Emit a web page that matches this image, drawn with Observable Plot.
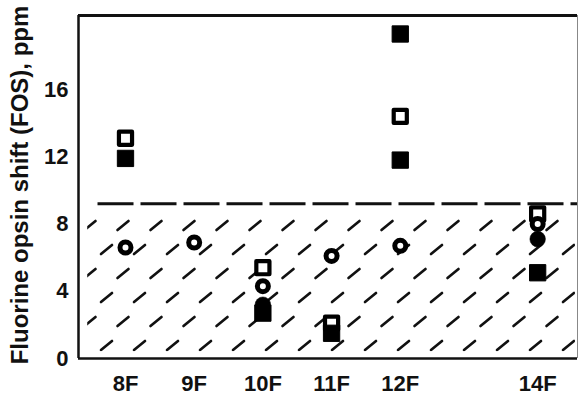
<!DOCTYPE html>
<html>
<head>
<meta charset="utf-8">
<script src="https://cdn.jsdelivr.net/npm/d3@7"></script>
<script src="https://cdn.jsdelivr.net/npm/@observablehq/plot@0.6"></script>
<style>
  html, body { margin: 0; padding: 0; background: #fff; }
  #chart { width: 579px; height: 395px; }
  svg { font-family: "Liberation Sans", Arial, sans-serif; }
  svg text { font-weight: bold; }
</style>
</head>
<body>
<div id="chart"></div>
<script>
// ---- data ----
const tickCarbons = [8, 9, 10, 11, 12, 14];
const tickLabels = ["8F", "9F", "10F", "11F", "12F", "14F"];
const yTicks = [0, 4, 8, 12, 16];
const openSquares   = [[8, 13.1], [10, 5.4], [11, 2.1], [12, 14.4], [14, 8.6]];
const filledSquares = [[8, 11.9], [10, 2.7], [11, 1.5], [12, 19.3], [12, 11.8], [14, 5.1]];
const openCircles   = [[8, 6.6], [9, 6.9], [10, 4.3], [11, 6.1], [12, 6.7], [14, 8.0]];
const filledCircles = [[10, 3.2], [14, 7.1]];
const threshold = [9.2];
const thresholdSpan = [7.6, 14.58];
const hatchRegion = [{x1: 7.45, x2: 14.55, y1: 0.4, y2: 8.9}];
const xDomain = [7.316, 14.58];
const yDomain = [0, 20.4];
const yLabel = ["Fluorine opsin shift (FOS), ppm"];

const pt = (d) => ({x: d[0], y: d[1]});

const plot = Plot.plot({
  width: 579,
  height: 395,
  marginLeft: 78,
  marginRight: 2,
  marginTop: 15,
  marginBottom: 37,
  style: {fontFamily: "'Liberation Sans', Arial, sans-serif", background: "#fff"},
  x: {domain: xDomain, axis: null},
  y: {domain: yDomain, axis: null},
  marks: [
    Plot.rect(hatchRegion, {x1: "x1", x2: "x2", y1: "y1", y2: "y2", fill: "url(#hatch)"}),
    Plot.ruleY(threshold, {x1: thresholdSpan[0], x2: thresholdSpan[1], stroke: "#111", strokeWidth: 3, strokeDasharray: "36,7"}),
    Plot.axisY(yTicks, {tickSize: 0, tickPadding: 10, fontSize: 22, fontWeight: "bold", fill: "#111", label: null}),
    Plot.axisX(tickCarbons, {tickSize: 0, tickPadding: 17, fontSize: 22, fontWeight: "bold", fill: "#111", label: null,
      tickFormat: (d) => tickLabels[tickCarbons.indexOf(d)]}),
    Plot.ruleX([xDomain[0]], {stroke: "#111", strokeWidth: 2.5}),
    Plot.ruleX([xDomain[1]], {stroke: "#888", strokeWidth: 1}),
    Plot.ruleY([yDomain[0]], {stroke: "#111", strokeWidth: 2.5}),
    Plot.ruleY([yDomain[1]], {stroke: "#111", strokeWidth: 3}),
    Plot.dot(openSquares.map(pt), {x: "x", y: "y", symbol: "square", r: 7.4, fill: "#fff", stroke: "#000", strokeWidth: 4.2, strokeLinejoin: "round"}),
    Plot.dot(openCircles.map(pt), {x: "x", y: "y", symbol: "circle", r: 5.5, fill: "#fff", stroke: "#000", strokeWidth: 5}),
    Plot.dot(filledCircles.map(pt), {x: "x", y: "y", symbol: "circle", r: 7.8, fill: "#000", stroke: "#000", strokeWidth: 0.5}),
    Plot.dot(filledSquares.map(pt), {x: "x", y: "y", symbol: "square", r: 9.2, fill: "#000", stroke: "#000", strokeWidth: 1, strokeLinejoin: "round"}),
    Plot.text(yLabel, {frameAnchor: "left", textAnchor: "middle", rotate: -90, dx: -58, dy: -2, fontSize: 24, fontWeight: "bold", fill: "#111", text: (d) => d})
  ]
});

// hatch pattern definition
const ns = "http://www.w3.org/2000/svg";
const defs = document.createElementNS(ns, "defs");
const pat = document.createElementNS(ns, "pattern");
pat.setAttribute("id", "hatch");
pat.setAttribute("patternUnits", "userSpaceOnUse");
pat.setAttribute("width", "33");
pat.setAttribute("height", "48");
const segs = [[2, 14], [18.5, 38]];
for (const [sx, sy] of segs) {
  const l = document.createElementNS(ns, "line");
  l.setAttribute("x1", sx);
  l.setAttribute("y1", sy);
  l.setAttribute("x2", sx + 11);
  l.setAttribute("y2", sy - 9);
  l.setAttribute("stroke", "#111");
  l.setAttribute("stroke-width", "2.7");
  l.setAttribute("stroke-linecap", "round");
  pat.appendChild(l);
}
defs.appendChild(pat);
plot.insertBefore(defs, plot.firstChild);

document.getElementById("chart").appendChild(plot);
</script>
</body>
</html>
